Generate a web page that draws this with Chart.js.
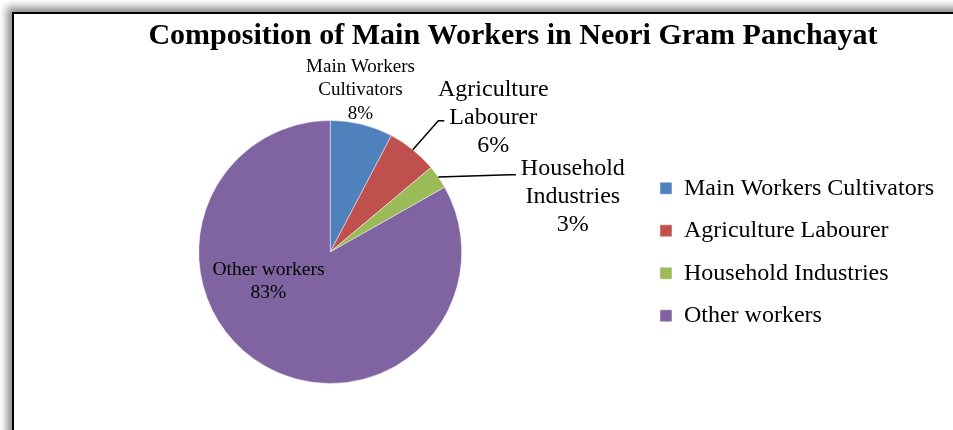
<!DOCTYPE html>
<html>
<head>
<meta charset="utf-8">
<script src="https://cdn.jsdelivr.net/npm/chart.js@4.4.0/dist/chart.umd.min.js"></script>
<style>
  html, body { margin:0; padding:0; background:#fff; overflow:hidden; }
  #frame { position:absolute; left:12px; top:12px; width:1100px; height:600px; border:2px solid #000; box-shadow:-5px -5px 8px rgba(0,0,0,.45); background:#fff; }
  #wrap { position:absolute; left:0; top:0; width:953px; height:430px; }
</style>
</head>
<body>
<div id="frame"></div>
<div id="wrap"><canvas id="c" width="953" height="430"></canvas></div>
<script>
const title = 'Composition of Main Workers in Neori Gram Panchayat';
const categories = ['Main Workers Cultivators', 'Agriculture Labourer', 'Household Industries', 'Other workers'];
const sliceLabels = [['Main Workers', 'Cultivators'], ['Agriculture', 'Labourer'], ['Household', 'Industries'], ['Other workers']];
const shares = [7.7, 6.2, 2.9, 83.2];
const colors = ['#4F81BD', '#C0504D', '#9BBB59', '#8064A2'];

// where each slice label sits (middle of the text block, in radii from the centre)
const labelPos = [[0.23, -1.23], [1.24, -1.02], [1.845, -0.42], [-0.47, 0.225]];
const labelSize = [19, 24, 24, 19.5];
const labelLine = [23.3, 28, 28, 23.5];
const leaders = [null, { line: 1, dy: 3 }, { line: 0, dy: 6 }, null];

Chart.defaults.font.family = "'Liberation Serif', 'Times New Roman', serif";

const sliceText = {
  id: 'sliceText',
  afterDatasetsDraw(chart) {
    const ctx = chart.ctx;
    const arcs = chart.getDatasetMeta(0).data;
    const total = shares.reduce((a, v) => a + v, 0);
    ctx.save();
    ctx.fillStyle = '#000'; ctx.strokeStyle = '#000'; ctx.lineWidth = 1.5;
    ctx.textAlign = 'center'; ctx.textBaseline = 'middle';
    arcs.forEach((arc, i) => {
      const { x, y, startAngle, endAngle, outerRadius: r } = arc.getProps(['x', 'y', 'startAngle', 'endAngle', 'outerRadius']);
      const lines = [...sliceLabels[i], Math.round(shares[i] / total * 100) + '%'];
      const lh = labelLine[i];
      ctx.font = labelSize[i] + "px 'Liberation Serif'";
      const cx = x + labelPos[i][0] * r, cy = y + labelPos[i][1] * r;
      const top = cy - (lines.length - 1) * lh / 2;
      lines.forEach((t, k) => ctx.fillText(t, cx, top + k * lh));
      const ld = leaders[i];
      if (ld) {
        const mid = (startAngle + endAngle) / 2;
        const w = ctx.measureText(lines[ld.line]).width;
        const ex = cx - w / 2 - 5, ey = top + ld.line * lh + ld.dy;
        ctx.beginPath();
        ctx.moveTo(x + Math.cos(mid) * r, y + Math.sin(mid) * r);
        ctx.lineTo(ex - 6, ey);
        ctx.lineTo(ex, ey);
        ctx.stroke();
      }
    });
    ctx.font = "bold 30px 'Liberation Serif'";
    ctx.fillText(title, 513, 36);
    ctx.restore();
  }
};

new Chart(document.getElementById('c'), {
  type: 'pie',
  data: {
    labels: categories,
    datasets: [{ data: shares, backgroundColor: colors, borderColor: 'rgba(255,255,255,0.45)', borderWidth: 1 }]
  },
  options: {
    responsive: false,
    animation: false,
    layout: { padding: { left: 19, right: 9, top: 120, bottom: 46 } },
    plugins: {
      legend: { position: 'right', labels: { color: '#000', font: { size: 24 }, boxWidth: 12, boxHeight: 12, padding: 18.5 } },
      tooltip: { enabled: false },
      title: { display: false }
    }
  },
  plugins: [sliceText]
});
</script>
</body>
</html>
